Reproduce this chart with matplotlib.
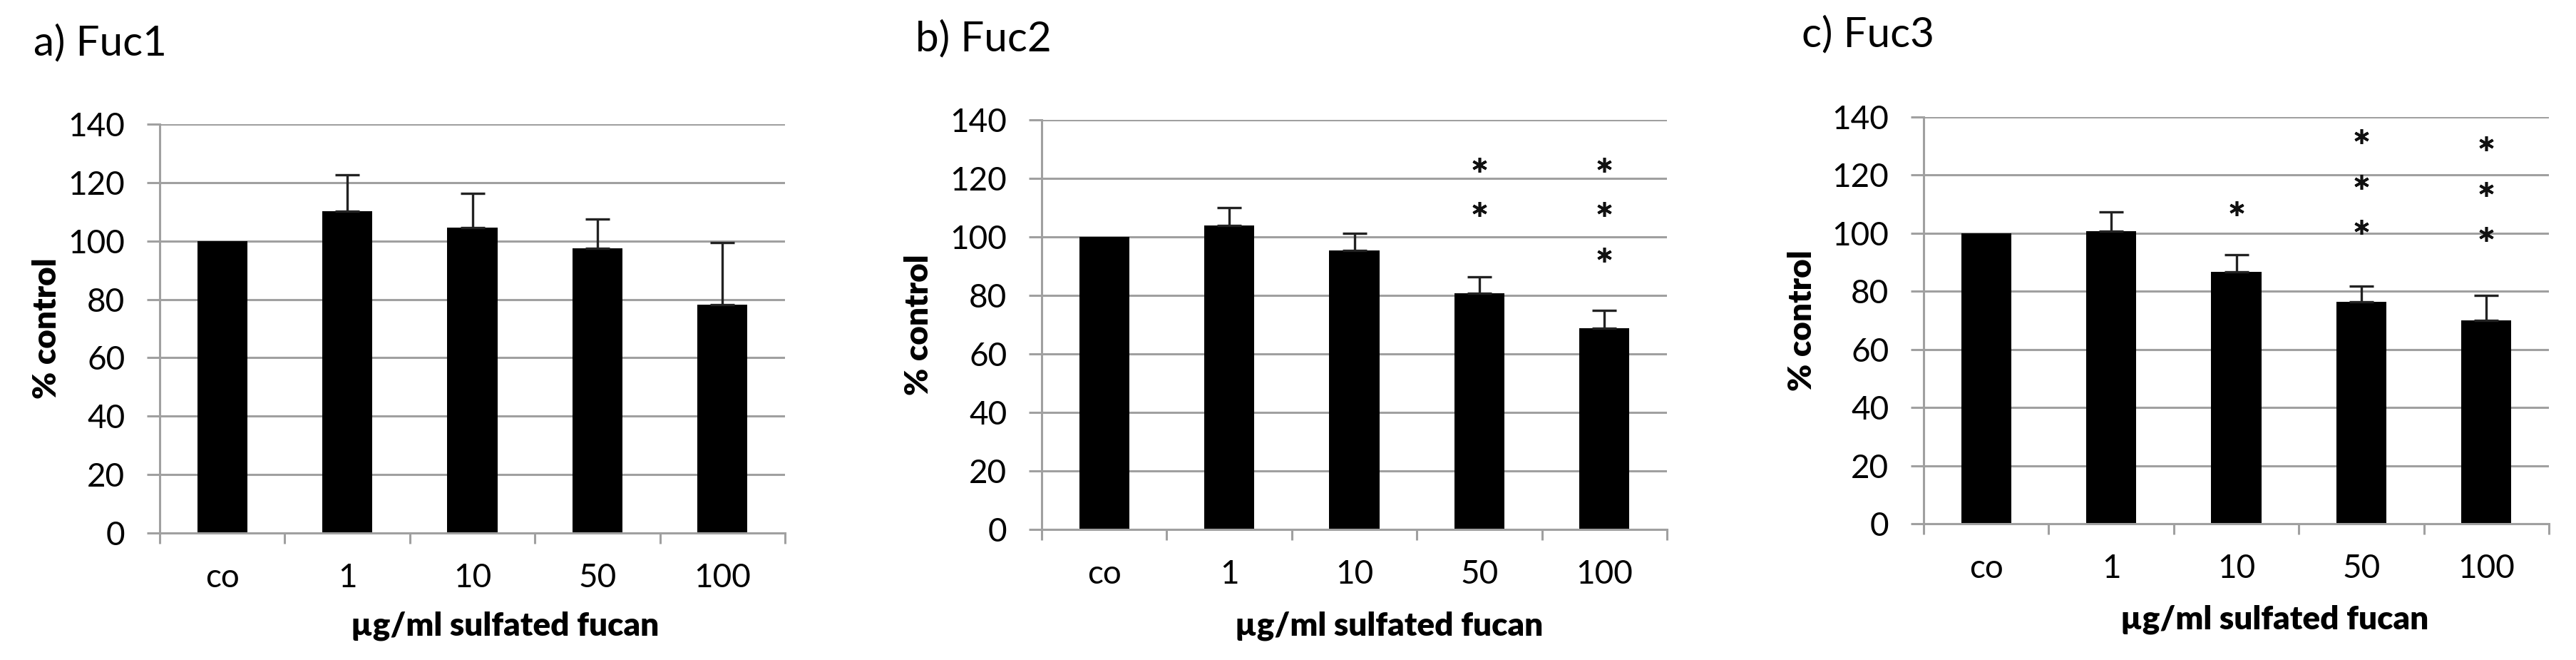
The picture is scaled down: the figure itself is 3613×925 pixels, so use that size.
import matplotlib

matplotlib.use("Agg")

import matplotlib.pyplot as plt
import numpy as np

plt.rcParams["font.family"] = ["Lato", "DejaVu Sans"]

categories = ["co", "1", "10", "50", "100"]
titles = ["a) Fuc1", "b) Fuc2", "c) Fuc3"]

fuc1_mean = [100, 110.1, 104.5, 97.5, 78.3]
fuc1_err = [0, 12.5, 11.7, 10.0, 21.1]
fuc2_mean = [100, 103.9, 95.3, 80.7, 68.9]
fuc2_err = [0, 6.2, 6.0, 5.6, 6.1]
fuc3_mean = [100, 100.7, 86.8, 76.5, 70.0]
fuc3_err = [0, 6.7, 5.7, 5.2, 8.7]

# significance asterisks: category index -> heights (% control)
fuc1_stars = {}
fuc2_stars = {3: [109.4, 124.7], 4: [93.8, 109.4, 124.7]}
fuc3_stars = {2: [108.5], 3: [102.1, 117.7, 133.3], 4: [99.6, 115.3, 130.9]}

W, H = 3613, 925
GREY = "#a0a0a0"

panels = [
    (fuc1_mean, fuc1_err, fuc1_stars),
    (fuc2_mean, fuc2_err, fuc2_stars),
    (fuc3_mean, fuc3_err, fuc3_stars),
]
# axes boxes in pixels: left, y of zero line, y of 140 line
boxes = [(224, 747, 174), (1461, 742, 168), (2698, 734, 164)]
title_pos = [(47, 77), (1284, 71), (2527, 65)]
xlabel_pos = [(0.552, -0.227), (0.556, -0.235), (0.561, -0.235)]
ylabel_x = [-0.181, -0.197, -0.194]


def draw_panel(fig, i):
    mean, err, stars = panels[i]
    left, zero_y, top_y = boxes[i]
    width = 877
    ax = fig.add_axes([left / W, (H - zero_y) / H, width / W, (zero_y - top_y) / H])

    x = np.arange(len(categories))
    ax.bar(x, mean, width=0.4, color="black", zorder=2)
    err = np.array(err)
    has = err > 0
    ax.errorbar(x[has], np.array(mean)[has], yerr=[np.zeros(has.sum()), err[has]],
                fmt="none", ecolor="#222222", elinewidth=2.4, capsize=12, capthick=2.4,
                zorder=3)

    for k, ys in stars.items():
        ax.plot([k] * len(ys), ys, linestyle="none", marker=(6, 2, 0),
                markersize=15, markeredgewidth=2.6, color="#111111", zorder=3)

    ax.set_xlim(-0.5, len(categories) - 0.5)
    ax.set_ylim(0, 140)
    ax.set_yticks(range(0, 141, 20))
    ax.yaxis.grid(True, color=GREY, linewidth=2.2)
    ax.set_axisbelow(True)

    ax.set_xticks(x)
    ax.set_xticklabels(categories)
    ax.set_xticks(np.arange(-0.5, len(categories)), minor=True)
    ax.tick_params(axis="x", which="major", length=0, pad=30, labelsize=33)
    ax.tick_params(axis="x", which="minor", length=11, width=2.2, color=GREY,
                   direction="out")
    ax.tick_params(axis="y", length=13, width=2.2, color=GREY, direction="out",
                   pad=22, labelsize=33)

    for side in ("top", "right"):
        ax.spines[side].set_visible(False)
    for side in ("left", "bottom"):
        ax.spines[side].set_color(GREY)
        ax.spines[side].set_linewidth(2.2)

    ax.set_xlabel("µg/ml sulfated fucan", fontsize=33, fontweight="heavy",
                  va="center")
    ax.xaxis.set_label_coords(*xlabel_pos[i])
    ax.set_ylabel("% control", fontsize=33, fontweight="heavy", va="center")
    ax.yaxis.set_label_coords(ylabel_x[i], 0.5)

    tx, ty = title_pos[i]
    fig.text(tx / W, (H - ty) / H, titles[i], fontsize=42, va="baseline",
             ha="left")


def main():
    fig = plt.figure(figsize=(W / 100, H / 100), dpi=100)
    for i in range(len(panels)):
        draw_panel(fig, i)
    fig.savefig("out.png", dpi=100, facecolor="white")
    plt.close(fig)


if __name__ == "__main__":
    main()
